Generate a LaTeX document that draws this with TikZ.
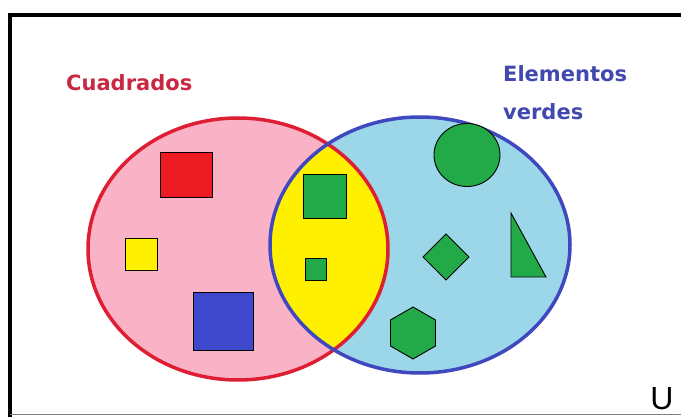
\documentclass[tikz,border=0pt]{standalone}
\usepackage{fontspec}
\setmainfont{DejaVu Sans}
\newfontfamily\ufont{Liberation Sans}
\usetikzlibrary{shapes.geometric}
\definecolor{pinkfill}{RGB}{250,178,198}
\definecolor{bluefill}{RGB}{155,215,232}
\definecolor{yel}{RGB}{255,240,0}
\definecolor{redl}{RGB}{222,30,50}
\definecolor{bluel}{RGB}{63,72,190}
\definecolor{grn}{RGB}{34,170,72}
\definecolor{sqred}{RGB}{237,28,36}
\definecolor{sqblue}{RGB}{63,72,204}
\definecolor{lblred}{RGB}{200,40,65}
\definecolor{lblblue}{RGB}{65,72,175}
\tikzset{
  shp/.style={draw=black, line width=0.9pt},
  lbl/.style={font=\bfseries\fontsize{21}{24}\selectfont, anchor=base west, inner sep=0pt},
}
\begin{document}
\begin{tikzpicture}[x=1pt,y=-1pt]
\useasboundingbox (0,0) rectangle (681,417);
\fill[white] (0,0) rectangle (681,417);
% frame
\draw[black, line width=4pt] (10,417) -- (10,15) -- (681,15);
\draw[gray, line width=1pt] (10,414.5) -- (681,414.5);
% sets
\fill[pinkfill] (238,249) ellipse [x radius=150, y radius=131];
\fill[bluefill] (420,245) ellipse [x radius=150, y radius=128];
\begin{scope}
  \clip (238,249) ellipse [x radius=150, y radius=131];
  \fill[yel] (420,245) ellipse [x radius=150, y radius=128];
\end{scope}
\draw[redl, line width=3.5pt] (238,249) ellipse [x radius=150, y radius=131];
\draw[bluel, line width=3.5pt] (420,245) ellipse [x radius=150, y radius=128];
% labels
\node[lbl, text=lblred] (cuad) at (66,91) {Cuadrados};
\node[lbl, text=lblblue] (elem) at (503,82) {Elementos};
\node[lbl, text=lblblue] (verd) at (503,120) {verdes};
\node[font=\ufont\fontsize{32}{34}\selectfont, anchor=base, inner sep=0pt] (u) at (662,409) {U};
% squares
\draw[shp, fill=sqred] (160,152) rectangle (212,197);
\draw[shp, fill=yel] (125,238) rectangle (157,270);
\draw[shp, fill=sqblue] (193,292) rectangle (253,350);
\draw[shp, fill=grn] (303,174) rectangle (346,218);
\draw[shp, fill=grn] (305,258) rectangle (326,280);
% green shapes
\draw[shp, fill=grn] (467,155) ellipse [x radius=33, y radius=31.5];
\draw[shp, fill=grn] (446,234) -- (469,257) -- (446,280) -- (423,257) -- cycle;
\draw[shp, fill=grn] (511,213) -- (546,277) -- (511,277) -- cycle;
\node[shp, fill=grn, regular polygon, regular polygon sides=6, minimum size=52pt, inner sep=0pt, shape border rotate=30] (hex) at (413,333) {};
\end{tikzpicture}
\end{document}
